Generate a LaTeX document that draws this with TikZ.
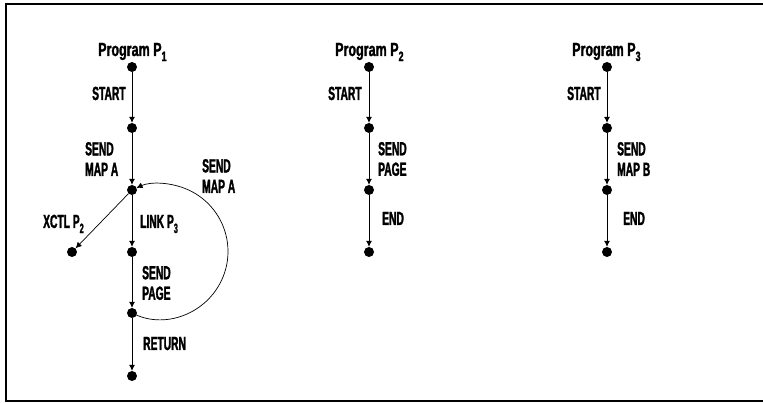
\documentclass[tikz,border=0pt]{standalone}
\usepackage{fontspec}
\setmainfont{Liberation Sans}[FakeStretch=0.54,BoldFeatures={FakeBold=1.5}]
\newfontfamily\progfont{Liberation Sans}[FakeStretch=0.66,BoldFeatures={FakeBold=1.5}]
\usetikzlibrary{arrows.meta,calc}
\newcommand\mysub[1]{\raisebox{-0.5ex}{\fontsize{13.5}{13.5}\selectfont #1}}
\begin{document}
\begin{tikzpicture}[x=1pt,y=1pt,
  dot/.style={circle,fill=black,inner sep=0pt,minimum size=10pt},
  arr/.style={line width=0.7pt,-{Latex[length=6pt,width=6pt]}},
  lbl/.style={font=\fontsize{19}{20.5}\selectfont\bfseries,inner sep=0pt,align=left},
  prog/.style={font=\fontsize{19}{20.5}\selectfont\bfseries\progfont,inner sep=0pt}]
\useasboundingbox (0,0) rectangle (763,403);
\draw[line width=1.4pt] (763,399) -- (6,399) -- (6,2) -- (763,2);
% Program P1
\node[dot] (a1) at (132,336) {};
\node[dot] (a2) at (132,275) {};
\node[dot] (a3) at (132,213) {};
\node[dot] (a4) at (132,151) {};
\node[dot] (a5) at (132,90) {};
\node[dot] (a6) at (132,27) {};
\node[dot] (ax) at (72,151) {};
\node[prog,anchor=base west] (ta) at (98,347) {Program P\mysub{1}};
\node[lbl,anchor=base west] (la1) at (92,303) {START};
\node[lbl,anchor=west] (la2) at (85,244) {SEND\\MAP A};
\node[lbl,anchor=west] (la3) at (202,227) {SEND\\MAP A};
\node[lbl,anchor=base west] (la4) at (43,175) {XCTL P\mysub{2}};
\node[lbl,anchor=base west] (la5) at (140,175) {LINK P\mysub{3}};
\node[lbl,anchor=west] (la6) at (142,120) {SEND\\PAGE};
\node[lbl,anchor=base west] (la7) at (143,53) {RETURN};
\draw[arr] (a1) -- (a2);
\draw[arr] (a2) -- (a3);
\draw[arr] (a3) -- (a4);
\draw[arr] (a4) -- (a5);
\draw[arr] (a5) -- (a6);
\draw[arr] (a3) -- (ax);
\draw[arr,shorten <=4pt,shorten >=5pt] (a5.center) arc[start angle=245.3,end angle=474.7,radius=67.7];
% Program P2
\node[dot] (b1) at (369,336) {};
\node[dot] (b2) at (369,275) {};
\node[dot] (b3) at (369,213) {};
\node[dot] (b4) at (369,151) {};
\node[prog,anchor=base west] (tb) at (335,347) {Program P\mysub{2}};
\node[lbl,anchor=base west] (lb1) at (328,303) {START};
\node[lbl,anchor=west] (lb2) at (378,244) {SEND\\PAGE};
\node[lbl,anchor=base west] (lb3) at (382,178) {END};
\draw[arr] (b1) -- (b2);
\draw[arr] (b2) -- (b3);
\draw[arr] (b3) -- (b4);
% Program P3
\node[dot] (c1) at (607,336) {};
\node[dot] (c2) at (607,275) {};
\node[dot] (c3) at (607,213) {};
\node[dot] (c4) at (607,151) {};
\node[prog,anchor=base west] (tc) at (572,347) {Program P\mysub{3}};
\node[lbl,anchor=base west] (lc1) at (567,303) {START};
\node[lbl,anchor=west] (lc2) at (617,244) {SEND\\MAP B};
\node[lbl,anchor=base west] (lc3) at (623,178) {END};
\draw[arr] (c1) -- (c2);
\draw[arr] (c2) -- (c3);
\draw[arr] (c3) -- (c4);
\end{tikzpicture}
\end{document}
